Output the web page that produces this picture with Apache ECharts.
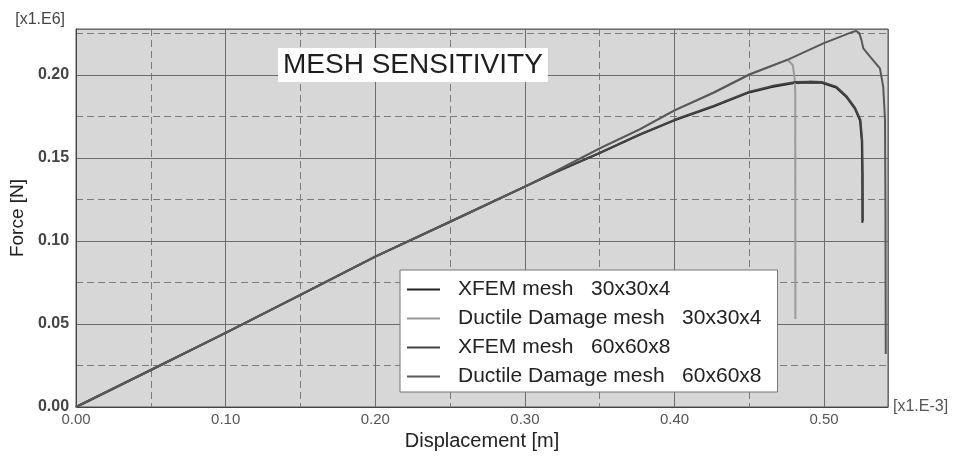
<!DOCTYPE html>
<html>
<head>
<meta charset="utf-8">
<script src="https://cdn.jsdelivr.net/npm/echarts@6/dist/echarts.min.js"></script>
<style>
html,body{margin:0;padding:0;background:#fff;}
#chart{width:955px;height:458px;}
</style>
</head>
<body>
<div id="chart"></div>
<script>
// Displacement in [x1.E-3 m], force in [x1.E6 N]
const dispXfem30 = [0, 0.05, 0.10, 0.15, 0.20, 0.25, 0.30, 0.32, 0.35, 0.3767, 0.40, 0.426, 0.45, 0.465, 0.48, 0.49, 0.4984, 0.508, 0.5151, 0.5207, 0.524, 0.5252, 0.5255, 0.5256];
const forceXfem30 = [0, 0.0223, 0.0446, 0.0675, 0.0906, 0.1116, 0.1327, 0.1412, 0.1530, 0.1640, 0.1727, 0.1810, 0.1895, 0.1928, 0.1952, 0.1955, 0.1953, 0.1925, 0.1865, 0.1795, 0.1725, 0.1600, 0.1400, 0.1110];

const dispDuct30 = [0, 0.05, 0.10, 0.15, 0.20, 0.25, 0.30, 0.32, 0.35, 0.3767, 0.40, 0.426, 0.45, 0.4755, 0.479, 0.4802, 0.4807, 0.4808];
const forceDuct30 = [0, 0.0223, 0.0446, 0.0675, 0.0906, 0.1116, 0.1327, 0.1418, 0.1558, 0.1672, 0.1787, 0.1893, 0.2003, 0.2092, 0.2060, 0.1990, 0.1900, 0.0530];

const dispXfem60 = [0, 0.05, 0.10, 0.15, 0.20, 0.25, 0.30, 0.32, 0.35, 0.3767, 0.40, 0.426, 0.45, 0.465, 0.48, 0.49, 0.4984, 0.508, 0.5151, 0.5207, 0.5243, 0.5255, 0.5258, 0.5259];
const forceXfem60 = [0, 0.0223, 0.0446, 0.0675, 0.0906, 0.1116, 0.1327, 0.1412, 0.1531, 0.1642, 0.1730, 0.1814, 0.1899, 0.1933, 0.1957, 0.1960, 0.1958, 0.1930, 0.1872, 0.1802, 0.1730, 0.1600, 0.1400, 0.1120];

const dispDuct60 = [0, 0.05, 0.10, 0.15, 0.20, 0.25, 0.30, 0.32, 0.35, 0.3767, 0.40, 0.426, 0.45, 0.4762, 0.4995, 0.5195, 0.5215, 0.5235, 0.525, 0.5262, 0.5307, 0.5373, 0.5395, 0.5407, 0.5410, 0.5412];
const forceDuct60 = [0, 0.0223, 0.0446, 0.0675, 0.0906, 0.1116, 0.1327, 0.1418, 0.1558, 0.1672, 0.1787, 0.1893, 0.2003, 0.2094, 0.2190, 0.2261, 0.2265, 0.2252, 0.2210, 0.2160, 0.2110, 0.2040, 0.1930, 0.1730, 0.1200, 0.0320];

const seriesNames = [
  'XFEM mesh   30x30x4',
  'Ductile Damage mesh   30x30x4',
  'XFEM mesh   60x60x8',
  'Ductile Damage mesh   60x60x8'
];
const seriesColors = ['#222222', '#9a9a9a', '#444444', '#585858'];

const xTickInterval = 0.1;
const yTickInterval = 0.05;
const xMax = 0.5427;
const yMax = 0.2277;

const titleText = 'MESH SENSITIVITY';
const xName = 'Displacement [m]';
const yName = 'Force [N]';
const xScaleName = '[x1.E-3]';
const yScaleName = '[x1.E6]';

function zip(xs, ys) { return xs.map((x, i) => [x, ys[i]]); }
const allData = [
  zip(dispXfem30, forceXfem30),
  zip(dispDuct30, forceDuct30),
  zip(dispXfem60, forceXfem60),
  zip(dispDuct60, forceDuct60)
];

const FONT = '"Liberation Sans", Arial, Helvetica, sans-serif';
const chart = echarts.init(document.getElementById('chart'), null, {renderer: 'canvas'});

chart.setOption({
  backgroundColor: '#ffffff',
  animation: false,
  textStyle: {fontFamily: FONT},
  title: {
    text: titleText,
    left: 278,
    top: 48,
    backgroundColor: '#ffffff',
    padding: [3, 5, 3, 5],
    textStyle: {fontFamily: FONT, fontSize: 28, fontWeight: 'normal', color: '#1e1e1e', lineHeight: 28}
  },
  legend: {
    orient: 'vertical',
    left: 400,
    top: 270,
    backgroundColor: '#ffffff',
    borderColor: '#777777',
    borderWidth: 1,
    borderRadius: 0,
    padding: [9, 16, 5, 7],
    itemWidth: 33,
    itemHeight: 14,
    itemGap: 8,
    textStyle: {fontFamily: FONT, fontSize: 21, color: '#222', lineHeight: 21, padding: [0, 0, 0, 13]},
    data: seriesNames.map(n => ({name: n, icon: 'path://M0,6 L33,6 L33,8 L0,8 Z'}))
  },
  grid: {
    left: 74, right: 67, top: 29, bottom: 51,
    show: true,
    backgroundColor: '#d7d7d7',
    borderColor: '#555555',
    borderWidth: 1
  },
  xAxis: [
    {
      type: 'value', min: 0, max: xMax, interval: xTickInterval,
      name: xName, nameLocation: 'middle', nameGap: 22,
      nameTextStyle: {fontFamily: FONT, fontSize: 20, color: '#222', verticalAlign: 'top'},
      axisLine: {show: true, lineStyle: {color: '#444', width: 1}},
      axisTick: {show: false},
      axisLabel: {
        margin: 5, fontSize: 15, color: '#555', fontFamily: FONT,
        showMaxLabel: false,
        formatter: v => v.toFixed(2)
      },
      splitLine: {show: true, lineStyle: {color: '#6c6c6c', width: 1, type: 'solid'}},
      z: 3
    },
    {
      type: 'value', min: 0, max: xMax, interval: xTickInterval / 2,
      position: 'bottom',
      name: xScaleName, nameLocation: 'end', nameGap: 5,
      nameTextStyle: {fontFamily: FONT, fontSize: 16, color: '#555', align: 'left', verticalAlign: 'middle', padding: [8, 0, 0, 0]},
      axisLine: {show: false},
      axisTick: {show: false},
      axisLabel: {show: false},
      splitLine: {show: true, lineStyle: {color: '#7c7c7c', width: 1, type: [7, 4]}},
      z: 2
    }
  ],
  yAxis: [
    {
      type: 'value', min: 0, max: yMax, interval: yTickInterval,
      name: yName, nameLocation: 'middle', nameGap: 42,
      nameTextStyle: {fontFamily: FONT, fontSize: 19, color: '#222'},
      axisLine: {show: true, lineStyle: {color: '#444', width: 1}},
      axisTick: {show: false},
      axisLabel: {
        margin: 7, fontSize: 16, color: '#444', fontWeight: 'bold', fontFamily: FONT,
        showMaxLabel: false,
        formatter: v => v.toFixed(2)
      },
      splitLine: {show: true, lineStyle: {color: '#6c6c6c', width: 1, type: 'solid'}},
      z: 3
    },
    {
      type: 'value', min: 0, max: yMax, interval: yTickInterval / 2,
      position: 'left',
      name: yScaleName, nameLocation: 'end', nameGap: 1,
      nameTextStyle: {fontFamily: FONT, fontSize: 16, color: '#444', align: 'right', verticalAlign: 'bottom', padding: [0, 11, 0, 0]},
      axisLine: {show: false},
      axisTick: {show: false},
      axisLabel: {show: false},
      splitLine: {show: true, lineStyle: {color: '#7c7c7c', width: 1, type: [7, 4]}},
      z: 2
    }
  ],
  series: seriesNames.map((name, i) => ({
    name: name,
    type: 'line',
    xAxisIndex: 0,
    yAxisIndex: 0,
    data: allData[i],
    showSymbol: false,
    symbol: 'none',
    smooth: false,
    lineStyle: {color: seriesColors[i], width: 2},
    itemStyle: {color: seriesColors[i]},
    z: 5
  }))
});
</script>
</body>
</html>
